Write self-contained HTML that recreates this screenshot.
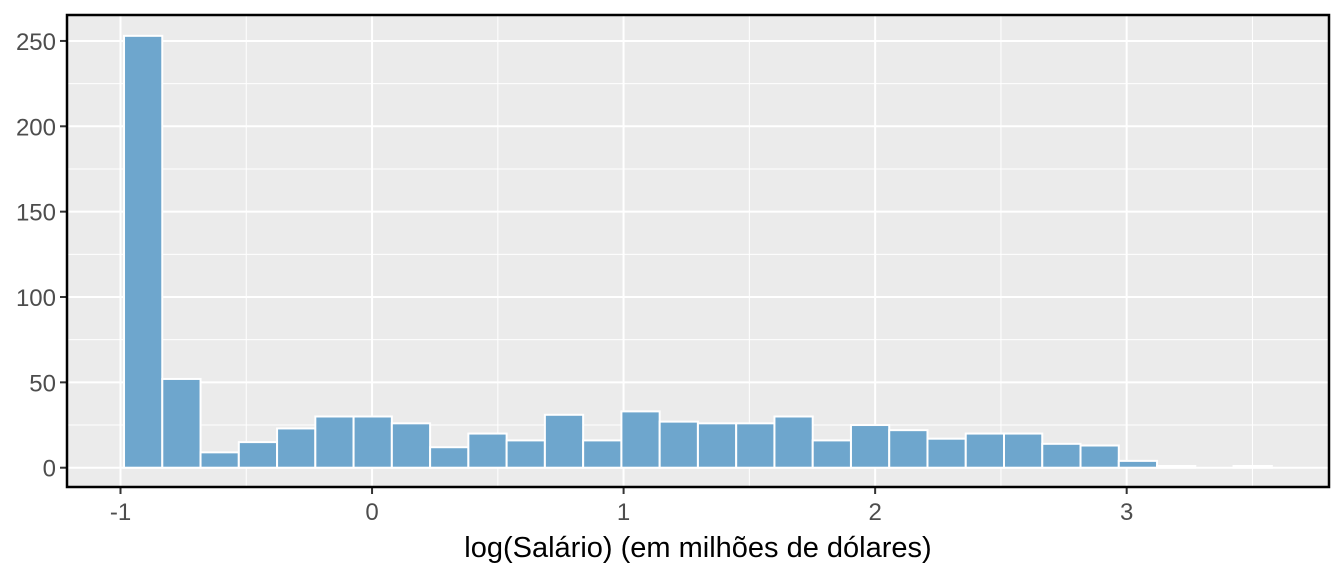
<!DOCTYPE html>
<html><head><meta charset="utf-8"><style>
body{margin:0;background:#fff;}
svg{display:block;font-family:"Liberation Sans",Arial,sans-serif;}
</style></head><body>
<svg id="chart" width="1344" height="576">
<rect x="67" y="15" width="1262" height="472" fill="#ebebeb"/>
<g id="grid"></g><g id="bars"></g><g id="axes"></g>
<rect x="67" y="15" width="1262" height="472" fill="none" stroke="#000" stroke-width="2.5"/>
<text x="698" y="557" text-anchor="middle" style="font-size:29px" fill="#000">log(Salário) (em milhões de dólares)</text>
</svg>
<script>
const binStart = -0.986;
const binWidth = 0.1521;
const counts = [253,52,9,15,23,30,30,26,12,20,16,31,16,33,27,26,26,30,16,25,22,17,20,20,14,13,4,1,0,1];
const xTicks = [-1,0,1,2,3];
const xTickLabels = ["-1","0","1","2","3"];
const yTicks = [0,50,100,150,200,250];
const yTickLabels = ["0","50","100","150","200","250"];
const xMin=-1.2127, xMax=3.8043, yMin=-11.3, yMax=265.2;
const L=67,R=1329,T=15,B=487;
const sx=v=>L+(v-xMin)/(xMax-xMin)*(R-L);
const sy=v=>B-(v-yMin)/(yMax-yMin)*(B-T);
const NS="http://www.w3.org/2000/svg";
function mk(tag,attrs,parent){const e=document.createElementNS(NS,tag);for(const k in attrs)e.setAttribute(k,attrs[k]);parent.appendChild(e);return e;}
const grid=document.getElementById('grid'),bars=document.getElementById('bars'),axes=document.getElementById('axes');
for(let v=-1.5;v<=3.5;v+=0.5){const major=Number.isInteger(v);
 const l=mk('line',{x1:sx(v),x2:sx(v),y1:T,y2:B,stroke:'#fff','stroke-width':major?2:1},grid);
 
 }
for(let v=0;v<=275;v+=25){if(sy(v)<T)continue;const major=v%50===0;
 const l=mk('line',{x1:L,x2:R,y1:sy(v),y2:sy(v),stroke:'#fff','stroke-width':major?2:1},grid);
 
 }
counts.forEach((c,i)=>{const x0=binStart+i*binWidth,x1=x0+binWidth;
 const r=mk('rect',{x:sx(x0),y:sy(c),width:sx(x1)-sx(x0),height:sy(0)-sy(c),fill:c>0?'#6ea6cd':'none',stroke:'#fff','stroke-width':2},bars);
 
 });
xTicks.forEach((v,i)=>{const x=sx(v);
 const t=mk('line',{x1:x,x2:x,y1:B,y2:B+7,stroke:'#333','stroke-width':2},axes);
 
 
 const tx=mk('text',{x:x,y:B+33,'text-anchor':'middle',style:'font-size:24px',fill:'#4d4d4d'},axes);
 tx.textContent=xTickLabels[i];
 
 });
yTicks.forEach((v,i)=>{const y=sy(v);
 const t=mk('line',{x1:L-7,x2:L,y1:y,y2:y,stroke:'#333','stroke-width':2},axes);
 
 
 const tx=mk('text',{x:L-11,y:y+9,'text-anchor':'end',style:'font-size:24px',fill:'#4d4d4d'},axes);
 tx.textContent=yTickLabels[i];
 
 });
</script>
</body></html>
